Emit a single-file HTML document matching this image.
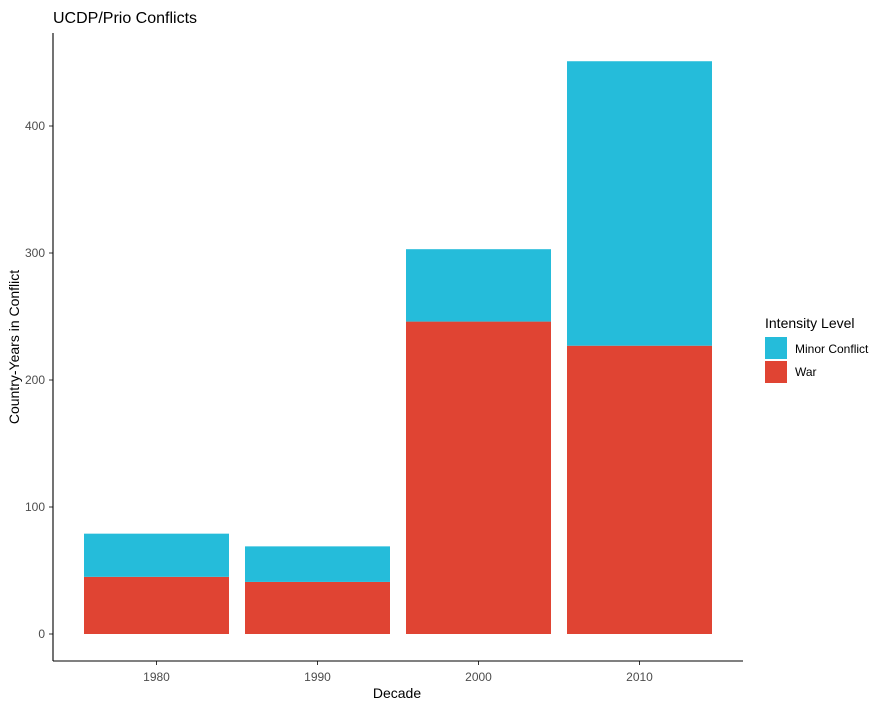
<!DOCTYPE html>
<html><head><meta charset="utf-8">
<style>
html,body{margin:0;padding:0;background:#fff;}
svg{display:block;font-family:"Liberation Sans",Arial,sans-serif;}
</style></head>
<body>
<svg id="chart" width="884" height="708" viewBox="0 0 884 708">
<text x="53" y="23" font-size="16" fill="#000">UCDP/Prio Conflicts</text>
<g id="bars"></g>
<g id="axes"></g>
<text x="397" y="698" font-size="14" text-anchor="middle" fill="#000">Decade</text>
<text transform="translate(19,347) rotate(-90)" font-size="14" text-anchor="middle" fill="#000">Country-Years in Conflict</text>
<g>
<text x="765" y="328" font-size="14" fill="#000">Intensity Level</text>
<rect x="765" y="337" width="22" height="22" fill="#25BCDA"/>
<text x="795" y="353" font-size="12" fill="#000">Minor Conflict</text>
<rect x="765" y="361" width="22" height="22" fill="#E04433"/>
<text x="795" y="376" font-size="12" fill="#000">War</text>
</g>
</svg>
<script>
const categories = ["1980","1990","2000","2010"];
const warValues = [45, 41, 246, 227];
const minorValues = [34, 28, 57, 224];
const yTicks = [0, 100, 200, 300, 400];

const NS = "http://www.w3.org/2000/svg";
const y0 = 634, pxPerUnit = 1.27;
function yScale(v){ return y0 - v * pxPerUnit; }
const xStart = 156.5, step = 161, barW = 145;
function xScale(i){ return xStart + i * step; }

function mk(tag, attrs, parent){
  const el = document.createElementNS(NS, tag);
  for (const k in attrs) el.setAttribute(k, attrs[k]);
  parent.appendChild(el);
  return el;
}
const bars = document.getElementById('bars');
const axes = document.getElementById('axes');

categories.forEach((c, i) => {
  const cx = xScale(i);
  const w = warValues[i], m = minorValues[i];
  const r1 = mk('rect', {x: cx - barW/2, y: yScale(w), width: barW, height: yScale(0) - yScale(w), fill: '#E04433'}, bars);
  
  
  const r2 = mk('rect', {x: cx - barW/2, y: yScale(w + m), width: barW, height: yScale(w) - yScale(w + m), fill: '#25BCDA'}, bars);
  
  
  const t = mk('line', {x1: cx, x2: cx, y1: 661, y2: 665, stroke: '#333', 'stroke-width': 1}, axes);
  
  
  const lb = mk('text', {x: cx, y: 681, 'font-size': 12, 'text-anchor': 'middle', fill: '#4d4d4d'}, axes);
  lb.textContent = c;
  
  
});

yTicks.forEach(v => {
  const y = yScale(v);
  const t = mk('line', {x1: 49, x2: 53, y1: y, y2: y, stroke: '#333', 'stroke-width': 1}, axes);
  
  
  const lb = mk('text', {x: 45, y: y + 4, 'font-size': 12, 'text-anchor': 'end', fill: '#4d4d4d'}, axes);
  lb.textContent = v;
  
  
});

const xl = mk('line', {x1: 53, x2: 743, y1: 661, y2: 661, stroke: '#000', 'stroke-width': 1.1}, axes);


const yl = mk('line', {x1: 53, x2: 53, y1: 33, y2: 661, stroke: '#000', 'stroke-width': 1.1}, axes);


</script>
</body></html>
